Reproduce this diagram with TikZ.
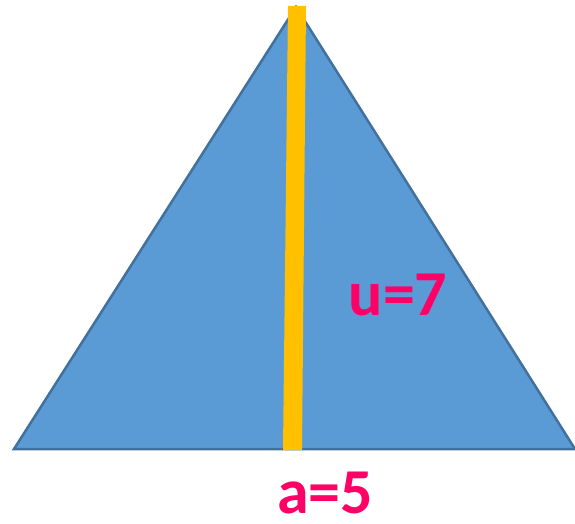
\documentclass[tikz,border=0pt]{standalone}
\usepackage{fontspec}
\setmainfont{Carlito}
\definecolor{triblue}{HTML}{5B9BD5}
\definecolor{triedge}{HTML}{41719C}
\definecolor{baryellow}{HTML}{FFC000}
\definecolor{labmag}{HTML}{FF0066}
\begin{document}
\begin{tikzpicture}[x=1pt,y=-1pt,
  lab/.style={text=labmag,font=\fontsize{64}{64}\selectfont\bfseries,inner sep=0pt}]
\useasboundingbox (0,0) rectangle (575,524);
\coordinate (apex) at (296,7);
\coordinate (bl) at (14,449);
\coordinate (br) at (575,449);
\filldraw[fill=triblue,draw=triedge,line width=2.5pt,line join=miter] (apex) -- (bl) -- (br) -- cycle;
\fill[baryellow] (288,6) -- (306,6) -- (302,450) -- (283,450) -- cycle;
\node[lab] (u) at (398,295) {u=7};
\node[lab] (a) at (325,493) {a=5};
\end{tikzpicture}
\end{document}
